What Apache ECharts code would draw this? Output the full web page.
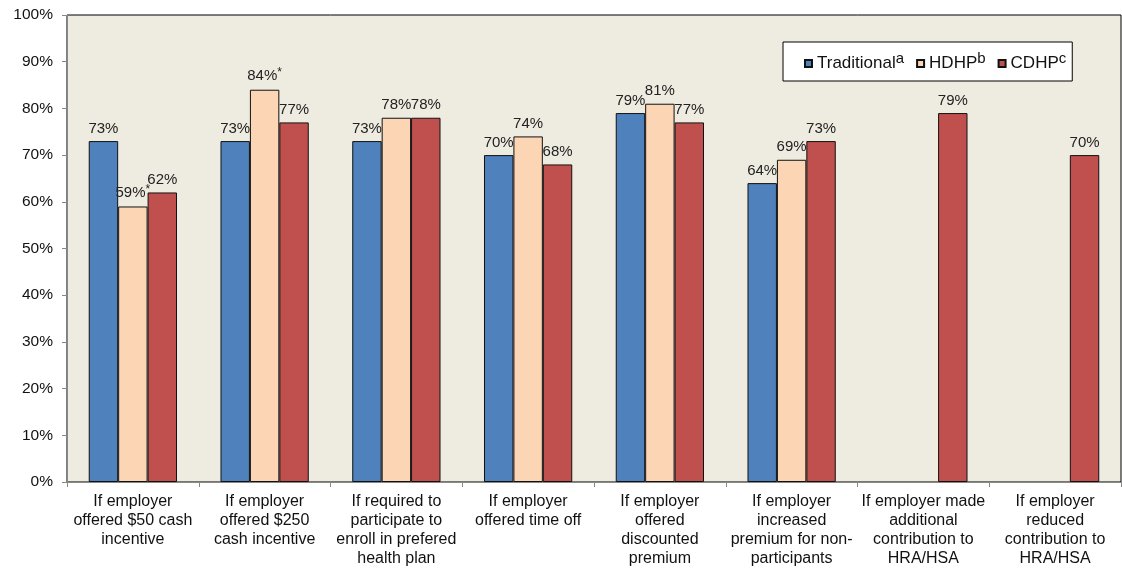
<!DOCTYPE html>
<html>
<head>
<meta charset="utf-8">
<script src="https://cdn.jsdelivr.net/npm/echarts@6/dist/echarts.min.js"></script>
<style>
  html, body { margin: 0; padding: 0; background: #fff; }
  #chart { width: 1122px; height: 569px; }
</style>
</head>
<body>
<div id="chart"></div>
<script>
// categories on the x axis
const categories = [
  'If employer\noffered $50 cash\nincentive',
  'If employer\noffered $250\ncash incentive',
  'If required to\nparticipate to\nenroll in prefered\nhealth plan',
  'If employer\noffered time off',
  'If employer\noffered\ndiscounted\npremium',
  'If employer\nincreased\npremium for non-\nparticipants',
  'If employer made\nadditional\ncontribution to\nHRA/HSA',
  'If employer\nreduced\ncontribution to\nHRA/HSA'
]
const yTicks = [0, 10, 20, 30, 40, 50, 60, 70, 80, 90, 100]
// values in percent, '-' = no bar
const traditional = [73, 73, 73, 70, 79, 64, '-', '-']
const hdhp = [59, 84, 78, 74, 81, 69, '-', '-']
const cdhp = [62, 77, 78, 68, 77, 73, 79, 70]
// significance markers for HDHP
const hdhpStar = [true, true, false, false, false, false, false, false]

const chart = echarts.init(document.getElementById('chart'))

const font = 'Liberation Sans, Arial, sans-serif'

const labelBase = {
  show: true,
  position: 'top',
  distance: 5,
  fontFamily: font,
  fontSize: 15,
  color: '#222'
}

const option = {
  animation: false,
  grid: {
    left: 67,
    right: 1,
    top: 15,
    bottom: 87,
    show: true,
    backgroundColor: '#EEECE1',
    borderColor: '#000',
    borderWidth: 1
  },
  legend: {
    left: 783,
    top: 42,
    padding: [9, 6, 9, 21],
    backgroundColor: '#fff',
    borderColor: '#000',
    borderWidth: 1,
    itemWidth: 7,
    itemHeight: 7,
    itemGap: 12,
    icon: 'rect',
    data: ['Traditional', 'HDHP', 'CDHP'],
    formatter: function (name) {
      const sup = { Traditional: 'a', HDHP: 'b', CDHP: 'c' }[name]
      return name + '{s|' + sup + '}'
    },
    textStyle: {
      fontFamily: font,
      fontSize: 17,
      color: '#111',
      rich: {
        s: { fontFamily: font, fontSize: 15, padding: [0, 0, 10, 0], color: '#111' }
      }
    }
  },
  xAxis: {
    type: 'category',
    data: categories,
    axisLine: { lineStyle: { color: '#888' } },
    axisTick: { show: true, length: 5, lineStyle: { color: '#888' } },
    axisLabel: {
      interval: 0,
      margin: 10,
      fontFamily: font,
      fontSize: 16,
      lineHeight: 19,
      color: '#111'
    }
  },
  yAxis: {
    type: 'value',
    min: 0,
    max: 100,
    interval: 10,
    axisLine: { show: true, lineStyle: { color: '#888' } },
    axisTick: { show: true, length: 5, lineStyle: { color: '#888' } },
    splitLine: { show: false },
    axisLabel: {
      margin: 14,
      fontFamily: font,
      fontSize: 15.5,
      color: '#111',
      formatter: function (v) { return yTicks.indexOf(v) >= 0 ? v + '%' : '' }
    }
  },
  series: [
    {
      name: 'Traditional',
      type: 'bar',
      data: traditional,
      barGap: '0%',
      barCategoryGap: '33%',
      itemStyle: { color: '#4F81BD', borderColor: '#111', borderWidth: 1 },
      label: Object.assign({}, labelBase, { formatter: '{c}%' })
    },
    {
      name: 'HDHP',
      type: 'bar',
      data: hdhp,
      itemStyle: { color: '#FCD5B5', borderColor: '#111', borderWidth: 1 },
      label: Object.assign({}, labelBase, {
        formatter: function (p) {
          return p.value + '%' + (hdhpStar[p.dataIndex] ? '{s|*}' : '')
        },
        rich: { s: { fontFamily: font, fontSize: 12, padding: [0, 0, 6, 0], color: '#222' } }
      })
    },
    {
      name: 'CDHP',
      type: 'bar',
      data: cdhp,
      itemStyle: { color: '#C0504D', borderColor: '#111', borderWidth: 1 },
      label: Object.assign({}, labelBase, { formatter: '{c}%' })
    }
  ]
}

chart.setOption(option)
</script>
</body>
</html>
